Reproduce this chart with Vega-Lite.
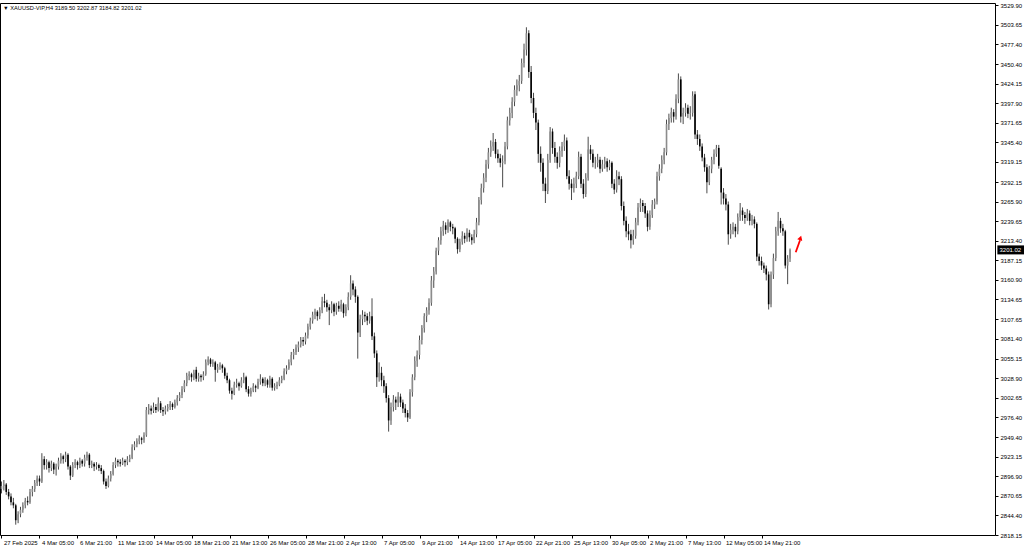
{
"$schema": "https://vega.github.io/schema/vega-lite/v6.json",
"width": 995, "height": 532,
"autosize": {"type": "none"},
"padding": {"left": 0, "top": 3, "right": 29, "bottom": 15},
"background": "#ffffff",
"title": {"text": "▼ XAUUSD-VIP,H4  3189.50 3202.87 3184.82 3201.02", "anchor": "start", "orient": "top", "frame": "group", "offset": -9, "fontSize": 5.7, "fontWeight": "normal", "font": "Liberation Sans", "color": "#000000", "dx": 3},
"config": {"view": {"stroke": "#000000", "strokeWidth": 1},
 "axis": {"labelOverlap": false, "labelSeparation": 0, "labelBound": false, "labelFlush": false, "grid": false, "domain": false, "tickSize": 3, "tickColor": "#000000", "labelFont": "Liberation Sans", "labelFontSize": 6, "labelColor": "#000000"}},
"data": {"values": [
{"i":0,"o":2880,"h":2890,"l":2874,"c":2884},{"i":1,"o":2884,"h":2892,"l":2878,"c":2886},{"i":2,"o":2886,"h":2888,"l":2872,"c":2876},{"i":3,"o":2876,"h":2880,"l":2866,"c":2870},{"i":4,"o":2870,"h":2874,"l":2858,"c":2862},{"i":5,"o":2862,"h":2868,"l":2854,"c":2858},{"i":6,"o":2858,"h":2860,"l":2832,"c":2838},{"i":7,"o":2838,"h":2850,"l":2834,"c":2846},{"i":8,"o":2846,"h":2856,"l":2842,"c":2852},{"i":9,"o":2852,"h":2862,"l":2848,"c":2858},
{"i":10,"o":2858,"h":2868,"l":2854,"c":2864},{"i":11,"o":2864,"h":2870,"l":2858,"c":2862},{"i":12,"o":2862,"h":2880,"l":2860,"c":2876},{"i":13,"o":2876,"h":2884,"l":2870,"c":2880},{"i":14,"o":2880,"h":2892,"l":2876,"c":2888},{"i":15,"o":2888,"h":2898,"l":2884,"c":2894},{"i":16,"o":2894,"h":2898,"l":2884,"c":2890},{"i":17,"o":2890,"h":2928,"l":2888,"c":2920},{"i":18,"o":2920,"h":2924,"l":2906,"c":2912},{"i":19,"o":2912,"h":2920,"l":2906,"c":2916},
{"i":20,"o":2916,"h":2918,"l":2902,"c":2908},{"i":21,"o":2908,"h":2918,"l":2904,"c":2914},{"i":22,"o":2914,"h":2916,"l":2900,"c":2906},{"i":23,"o":2906,"h":2914,"l":2898,"c":2910},{"i":24,"o":2910,"h":2922,"l":2906,"c":2918},{"i":25,"o":2918,"h":2928,"l":2914,"c":2924},{"i":26,"o":2924,"h":2926,"l":2914,"c":2920},{"i":27,"o":2920,"h":2930,"l":2916,"c":2926},{"i":28,"o":2926,"h":2928,"l":2906,"c":2910},{"i":29,"o":2910,"h":2912,"l":2892,"c":2898},
{"i":30,"o":2898,"h":2916,"l":2896,"c":2912},{"i":31,"o":2912,"h":2920,"l":2908,"c":2916},{"i":32,"o":2916,"h":2918,"l":2906,"c":2912},{"i":33,"o":2912,"h":2922,"l":2908,"c":2918},{"i":34,"o":2918,"h":2920,"l":2910,"c":2914},{"i":35,"o":2914,"h":2926,"l":2910,"c":2922},{"i":36,"o":2922,"h":2930,"l":2918,"c":2926},{"i":37,"o":2926,"h":2928,"l":2908,"c":2912},{"i":38,"o":2912,"h":2918,"l":2908,"c":2914},{"i":39,"o":2914,"h":2916,"l":2904,"c":2910},
{"i":40,"o":2910,"h":2916,"l":2906,"c":2912},{"i":41,"o":2912,"h":2914,"l":2904,"c":2908},{"i":42,"o":2908,"h":2912,"l":2900,"c":2904},{"i":43,"o":2904,"h":2906,"l":2886,"c":2890},{"i":44,"o":2890,"h":2894,"l":2880,"c":2884},{"i":45,"o":2884,"h":2898,"l":2882,"c":2894},{"i":46,"o":2894,"h":2904,"l":2890,"c":2900},{"i":47,"o":2900,"h":2916,"l":2898,"c":2912},{"i":48,"o":2912,"h":2922,"l":2908,"c":2918},{"i":49,"o":2918,"h":2920,"l":2910,"c":2916},
{"i":50,"o":2916,"h":2920,"l":2910,"c":2914},{"i":51,"o":2914,"h":2922,"l":2912,"c":2918},{"i":52,"o":2918,"h":2920,"l":2910,"c":2916},{"i":53,"o":2916,"h":2924,"l":2912,"c":2920},{"i":54,"o":2920,"h":2926,"l":2916,"c":2922},{"i":55,"o":2922,"h":2940,"l":2920,"c":2936},{"i":56,"o":2936,"h":2944,"l":2932,"c":2940},{"i":57,"o":2940,"h":2948,"l":2936,"c":2944},{"i":58,"o":2944,"h":2952,"l":2940,"c":2948},{"i":59,"o":2948,"h":2950,"l":2940,"c":2946},
{"i":60,"o":2946,"h":2956,"l":2942,"c":2952},{"i":61,"o":2952,"h":2990,"l":2950,"c":2986},{"i":62,"o":2986,"h":2994,"l":2980,"c":2988},{"i":63,"o":2988,"h":2992,"l":2980,"c":2985},{"i":64,"o":2985,"h":2996,"l":2982,"c":2990},{"i":65,"o":2990,"h":2994,"l":2982,"c":2986},{"i":66,"o":2986,"h":3003,"l":2984,"c":2995},{"i":67,"o":2995,"h":2998,"l":2982,"c":2986},{"i":68,"o":2986,"h":2990,"l":2978,"c":2984},{"i":69,"o":2984,"h":2992,"l":2980,"c":2988},
{"i":70,"o":2988,"h":2994,"l":2984,"c":2990},{"i":71,"o":2990,"h":2998,"l":2986,"c":2994},{"i":72,"o":2994,"h":2996,"l":2986,"c":2990},{"i":73,"o":2990,"h":3000,"l":2988,"c":2996},{"i":74,"o":2996,"h":3006,"l":2992,"c":3002},{"i":75,"o":3002,"h":3010,"l":2998,"c":3006},{"i":76,"o":3006,"h":3018,"l":3002,"c":3014},{"i":77,"o":3014,"h":3026,"l":3010,"c":3022},{"i":78,"o":3022,"h":3036,"l":3018,"c":3032},{"i":79,"o":3032,"h":3038,"l":3026,"c":3034},
{"i":80,"o":3034,"h":3036,"l":3024,"c":3030},{"i":81,"o":3030,"h":3040,"l":3026,"c":3036},{"i":82,"o":3040,"h":3044,"l":3024,"c":3028},{"i":83,"o":3028,"h":3036,"l":3024,"c":3032},{"i":84,"o":3032,"h":3034,"l":3024,"c":3030},{"i":85,"o":3030,"h":3038,"l":3026,"c":3034},{"i":86,"o":3034,"h":3054,"l":3032,"c":3050},{"i":87,"o":3050,"h":3058,"l":3046,"c":3054},{"i":88,"o":3054,"h":3056,"l":3044,"c":3048},{"i":89,"o":3048,"h":3054,"l":3044,"c":3050},
{"i":90,"o":3050,"h":3052,"l":3024,"c":3040},{"i":91,"o":3040,"h":3048,"l":3036,"c":3044},{"i":92,"o":3044,"h":3050,"l":3040,"c":3046},{"i":93,"o":3046,"h":3048,"l":3036,"c":3042},{"i":94,"o":3042,"h":3044,"l":3028,"c":3032},{"i":95,"o":3032,"h":3036,"l":3022,"c":3026},{"i":96,"o":3026,"h":3028,"l":3008,"c":3012},{"i":97,"o":3012,"h":3016,"l":3000,"c":3008},{"i":98,"o":3008,"h":3024,"l":3006,"c":3020},{"i":99,"o":3020,"h":3028,"l":3016,"c":3022},
{"i":100,"o":3022,"h":3024,"l":3012,"c":3018},{"i":101,"o":3018,"h":3030,"l":3016,"c":3026},{"i":102,"o":3026,"h":3036,"l":3022,"c":3030},{"i":103,"o":3030,"h":3032,"l":3010,"c":3014},{"i":104,"o":3014,"h":3018,"l":3004,"c":3008},{"i":105,"o":3008,"h":3016,"l":3004,"c":3012},{"i":106,"o":3012,"h":3022,"l":3010,"c":3018},{"i":107,"o":3018,"h":3020,"l":3010,"c":3016},{"i":108,"o":3016,"h":3028,"l":3014,"c":3024},{"i":109,"o":3024,"h":3034,"l":3020,"c":3028},
{"i":110,"o":3028,"h":3030,"l":3018,"c":3022},{"i":111,"o":3022,"h":3030,"l":3018,"c":3026},{"i":112,"o":3026,"h":3028,"l":3016,"c":3020},{"i":113,"o":3020,"h":3032,"l":3016,"c":3028},{"i":114,"o":3028,"h":3030,"l":3012,"c":3016},{"i":115,"o":3016,"h":3022,"l":3012,"c":3018},{"i":116,"o":3018,"h":3024,"l":3014,"c":3020},{"i":117,"o":3020,"h":3030,"l":3018,"c":3026},{"i":118,"o":3026,"h":3032,"l":3022,"c":3028},{"i":119,"o":3028,"h":3042,"l":3026,"c":3038},
{"i":120,"o":3038,"h":3046,"l":3034,"c":3042},{"i":121,"o":3042,"h":3054,"l":3040,"c":3050},{"i":122,"o":3050,"h":3064,"l":3046,"c":3060},{"i":123,"o":3060,"h":3068,"l":3054,"c":3064},{"i":124,"o":3064,"h":3074,"l":3060,"c":3070},{"i":125,"o":3070,"h":3078,"l":3064,"c":3074},{"i":126,"o":3074,"h":3084,"l":3070,"c":3080},{"i":127,"o":3080,"h":3084,"l":3072,"c":3078},{"i":128,"o":3078,"h":3090,"l":3074,"c":3086},{"i":129,"o":3086,"h":3102,"l":3082,"c":3098},
{"i":130,"o":3098,"h":3110,"l":3094,"c":3106},{"i":131,"o":3106,"h":3118,"l":3102,"c":3114},{"i":132,"o":3114,"h":3122,"l":3108,"c":3118},{"i":133,"o":3118,"h":3120,"l":3106,"c":3112},{"i":134,"o":3112,"h":3124,"l":3108,"c":3120},{"i":135,"o":3120,"h":3138,"l":3116,"c":3132},{"i":136,"o":3132,"h":3142,"l":3124,"c":3130},{"i":137,"o":3130,"h":3134,"l":3118,"c":3124},{"i":138,"o":3124,"h":3128,"l":3100,"c":3120},{"i":139,"o":3120,"h":3132,"l":3116,"c":3128},
{"i":140,"o":3128,"h":3130,"l":3112,"c":3118},{"i":141,"o":3118,"h":3130,"l":3114,"c":3126},{"i":142,"o":3126,"h":3132,"l":3118,"c":3122},{"i":143,"o":3122,"h":3134,"l":3118,"c":3128},{"i":144,"o":3128,"h":3130,"l":3110,"c":3116},{"i":145,"o":3116,"h":3128,"l":3112,"c":3124},{"i":146,"o":3124,"h":3144,"l":3120,"c":3138},{"i":147,"o":3138,"h":3167,"l":3134,"c":3156},{"i":148,"o":3156,"h":3160,"l":3140,"c":3148},{"i":149,"o":3148,"h":3152,"l":3130,"c":3138},
{"i":150,"o":3138,"h":3140,"l":3055,"c":3090},{"i":151,"o":3090,"h":3114,"l":3084,"c":3108},{"i":152,"o":3108,"h":3120,"l":3100,"c":3114},{"i":153,"o":3114,"h":3118,"l":3104,"c":3112},{"i":154,"o":3112,"h":3116,"l":3100,"c":3106},{"i":155,"o":3106,"h":3118,"l":3102,"c":3112},{"i":156,"o":3112,"h":3136,"l":3080,"c":3085},{"i":157,"o":3085,"h":3090,"l":3056,"c":3062},{"i":158,"o":3062,"h":3066,"l":3017,"c":3030},{"i":159,"o":3030,"h":3050,"l":3024,"c":3036},
{"i":160,"o":3036,"h":3044,"l":3018,"c":3026},{"i":161,"o":3026,"h":3032,"l":3009,"c":3018},{"i":162,"o":3018,"h":3022,"l":2996,"c":3002},{"i":163,"o":3002,"h":3006,"l":2957,"c":2972},{"i":164,"o":2972,"h":2996,"l":2966,"c":2990},{"i":165,"o":2990,"h":3006,"l":2984,"c":3000},{"i":166,"o":3000,"h":3004,"l":2986,"c":2996},{"i":167,"o":2996,"h":3010,"l":2990,"c":3004},{"i":168,"o":3004,"h":3008,"l":2990,"c":2996},{"i":169,"o":2996,"h":3000,"l":2982,"c":2988},
{"i":170,"o":2988,"h":2994,"l":2976,"c":2982},{"i":171,"o":2982,"h":2986,"l":2970,"c":2976},{"i":172,"o":2976,"h":3014,"l":2974,"c":3010},{"i":173,"o":3010,"h":3034,"l":3004,"c":3030},{"i":174,"o":3030,"h":3058,"l":3026,"c":3052},{"i":175,"o":3052,"h":3066,"l":3044,"c":3060},{"i":176,"o":3060,"h":3086,"l":3054,"c":3080},{"i":177,"o":3080,"h":3100,"l":3074,"c":3096},{"i":178,"o":3096,"h":3116,"l":3090,"c":3112},{"i":179,"o":3112,"h":3124,"l":3104,"c":3120},
{"i":180,"o":3120,"h":3136,"l":3114,"c":3130},{"i":181,"o":3130,"h":3166,"l":3126,"c":3160},{"i":182,"o":3160,"h":3178,"l":3150,"c":3172},{"i":183,"o":3172,"h":3204,"l":3168,"c":3200},{"i":184,"o":3200,"h":3218,"l":3194,"c":3214},{"i":185,"o":3214,"h":3232,"l":3208,"c":3226},{"i":186,"o":3226,"h":3240,"l":3220,"c":3234},{"i":187,"o":3234,"h":3238,"l":3222,"c":3228},{"i":188,"o":3228,"h":3242,"l":3224,"c":3238},{"i":189,"o":3238,"h":3240,"l":3226,"c":3232},
{"i":190,"o":3232,"h":3236,"l":3222,"c":3230},{"i":191,"o":3230,"h":3232,"l":3210,"c":3216},{"i":192,"o":3216,"h":3218,"l":3196,"c":3202},{"i":193,"o":3202,"h":3216,"l":3198,"c":3212},{"i":194,"o":3212,"h":3226,"l":3208,"c":3220},{"i":195,"o":3220,"h":3224,"l":3210,"c":3216},{"i":196,"o":3216,"h":3230,"l":3212,"c":3224},{"i":197,"o":3224,"h":3228,"l":3212,"c":3218},{"i":198,"o":3218,"h":3222,"l":3208,"c":3214},{"i":199,"o":3214,"h":3228,"l":3210,"c":3222},
{"i":200,"o":3222,"h":3244,"l":3218,"c":3238},{"i":201,"o":3238,"h":3272,"l":3234,"c":3268},{"i":202,"o":3268,"h":3290,"l":3262,"c":3284},{"i":203,"o":3284,"h":3304,"l":3278,"c":3298},{"i":204,"o":3298,"h":3322,"l":3292,"c":3316},{"i":205,"o":3316,"h":3338,"l":3310,"c":3332},{"i":206,"o":3332,"h":3348,"l":3326,"c":3340},{"i":207,"o":3340,"h":3358,"l":3334,"c":3346},{"i":208,"o":3346,"h":3350,"l":3324,"c":3330},{"i":209,"o":3330,"h":3336,"l":3318,"c":3324},
{"i":210,"o":3324,"h":3330,"l":3312,"c":3318},{"i":211,"o":3318,"h":3328,"l":3285,"c":3320},{"i":212,"o":3320,"h":3346,"l":3316,"c":3340},{"i":213,"o":3340,"h":3380,"l":3336,"c":3375},{"i":214,"o":3375,"h":3392,"l":3368,"c":3385},{"i":215,"o":3385,"h":3406,"l":3378,"c":3400},{"i":216,"o":3400,"h":3422,"l":3394,"c":3416},{"i":217,"o":3416,"h":3430,"l":3408,"c":3422},{"i":218,"o":3422,"h":3436,"l":3414,"c":3428},{"i":219,"o":3428,"h":3458,"l":3424,"c":3452},
{"i":220,"o":3452,"h":3478,"l":3446,"c":3470},{"i":221,"o":3470,"h":3500,"l":3462,"c":3492},{"i":222,"o":3492,"h":3496,"l":3432,"c":3440},{"i":223,"o":3440,"h":3448,"l":3398,"c":3405},{"i":224,"o":3405,"h":3412,"l":3378,"c":3385},{"i":225,"o":3385,"h":3392,"l":3362,"c":3372},{"i":226,"o":3372,"h":3376,"l":3318,"c":3330},{"i":227,"o":3330,"h":3340,"l":3306,"c":3318},{"i":228,"o":3318,"h":3324,"l":3280,"c":3290},{"i":229,"o":3290,"h":3298,"l":3264,"c":3280},
{"i":230,"o":3280,"h":3330,"l":3276,"c":3322},{"i":231,"o":3322,"h":3366,"l":3318,"c":3360},{"i":232,"o":3360,"h":3364,"l":3330,"c":3338},{"i":233,"o":3338,"h":3346,"l":3318,"c":3326},{"i":234,"o":3326,"h":3332,"l":3310,"c":3318},{"i":235,"o":3318,"h":3340,"l":3312,"c":3334},{"i":236,"o":3334,"h":3346,"l":3326,"c":3340},{"i":237,"o":3340,"h":3356,"l":3334,"c":3348},{"i":238,"o":3348,"h":3352,"l":3296,"c":3300},{"i":239,"o":3300,"h":3308,"l":3282,"c":3290},
{"i":240,"o":3290,"h":3296,"l":3268,"c":3284},{"i":241,"o":3284,"h":3298,"l":3278,"c":3290},{"i":242,"o":3290,"h":3306,"l":3284,"c":3300},{"i":243,"o":3300,"h":3333,"l":3296,"c":3326},{"i":244,"o":3326,"h":3330,"l":3284,"c":3290},{"i":245,"o":3290,"h":3296,"l":3270,"c":3276},{"i":246,"o":3276,"h":3304,"l":3272,"c":3298},{"i":247,"o":3298,"h":3353,"l":3294,"c":3336},{"i":248,"o":3336,"h":3342,"l":3322,"c":3330},{"i":249,"o":3330,"h":3336,"l":3312,"c":3318},
{"i":250,"o":3318,"h":3326,"l":3310,"c":3318},{"i":251,"o":3318,"h":3330,"l":3312,"c":3322},{"i":252,"o":3322,"h":3326,"l":3304,"c":3310},{"i":253,"o":3310,"h":3322,"l":3306,"c":3316},{"i":254,"o":3316,"h":3326,"l":3310,"c":3320},{"i":255,"o":3320,"h":3324,"l":3306,"c":3312},{"i":256,"o":3312,"h":3322,"l":3308,"c":3318},{"i":257,"o":3318,"h":3320,"l":3284,"c":3290},{"i":258,"o":3290,"h":3296,"l":3276,"c":3282},{"i":259,"o":3282,"h":3308,"l":3278,"c":3300},
{"i":260,"o":3300,"h":3306,"l":3288,"c":3296},{"i":261,"o":3296,"h":3300,"l":3254,"c":3260},{"i":262,"o":3260,"h":3266,"l":3234,"c":3240},{"i":263,"o":3240,"h":3246,"l":3218,"c":3226},{"i":264,"o":3226,"h":3236,"l":3214,"c":3222},{"i":265,"o":3222,"h":3228,"l":3203,"c":3214},{"i":266,"o":3214,"h":3228,"l":3208,"c":3220},{"i":267,"o":3220,"h":3244,"l":3216,"c":3238},{"i":268,"o":3238,"h":3264,"l":3234,"c":3258},{"i":269,"o":3258,"h":3270,"l":3252,"c":3264},
{"i":270,"o":3264,"h":3268,"l":3252,"c":3260},{"i":271,"o":3260,"h":3264,"l":3244,"c":3250},{"i":272,"o":3250,"h":3254,"l":3226,"c":3232},{"i":273,"o":3232,"h":3254,"l":3228,"c":3248},{"i":274,"o":3248,"h":3268,"l":3244,"c":3262},{"i":275,"o":3262,"h":3270,"l":3256,"c":3266},{"i":276,"o":3266,"h":3306,"l":3262,"c":3300},{"i":277,"o":3300,"h":3316,"l":3294,"c":3310},{"i":278,"o":3310,"h":3328,"l":3304,"c":3322},{"i":279,"o":3322,"h":3338,"l":3316,"c":3332},
{"i":280,"o":3332,"h":3376,"l":3328,"c":3370},{"i":281,"o":3370,"h":3384,"l":3362,"c":3378},{"i":282,"o":3378,"h":3392,"l":3372,"c":3386},{"i":283,"o":3386,"h":3390,"l":3372,"c":3380},{"i":284,"o":3380,"h":3410,"l":3376,"c":3404},{"i":285,"o":3404,"h":3438,"l":3398,"c":3430},{"i":286,"o":3430,"h":3434,"l":3372,"c":3380},{"i":287,"o":3380,"h":3392,"l":3370,"c":3385},{"i":288,"o":3385,"h":3398,"l":3380,"c":3392},{"i":289,"o":3392,"h":3396,"l":3378,"c":3384},
{"i":290,"o":3384,"h":3394,"l":3376,"c":3385},{"i":291,"o":3385,"h":3414,"l":3380,"c":3408},{"i":292,"o":3410,"h":3414,"l":3350,"c":3356},{"i":293,"o":3356,"h":3362,"l":3342,"c":3350},{"i":294,"o":3350,"h":3356,"l":3334,"c":3340},{"i":295,"o":3340,"h":3344,"l":3320,"c":3325},{"i":296,"o":3325,"h":3330,"l":3306,"c":3312},{"i":297,"o":3312,"h":3316,"l":3277,"c":3292},{"i":298,"o":3292,"h":3314,"l":3288,"c":3310},{"i":299,"o":3310,"h":3326,"l":3304,"c":3322},
{"i":300,"o":3322,"h":3336,"l":3316,"c":3330},{"i":301,"o":3330,"h":3342,"l":3326,"c":3338},{"i":302,"o":3338,"h":3342,"l":3310,"c":3314},{"i":303,"o":3310,"h":3312,"l":3262,"c":3278},{"i":304,"o":3278,"h":3284,"l":3262,"c":3270},{"i":305,"o":3270,"h":3276,"l":3254,"c":3262},{"i":306,"o":3262,"h":3266,"l":3208,"c":3222},{"i":307,"o":3222,"h":3236,"l":3216,"c":3228},{"i":308,"o":3228,"h":3238,"l":3222,"c":3232},{"i":309,"o":3232,"h":3236,"l":3218,"c":3226},
{"i":310,"o":3226,"h":3250,"l":3222,"c":3245},{"i":311,"o":3245,"h":3264,"l":3240,"c":3254},{"i":312,"o":3254,"h":3258,"l":3240,"c":3248},{"i":313,"o":3248,"h":3252,"l":3236,"c":3244},{"i":314,"o":3244,"h":3256,"l":3240,"c":3250},{"i":315,"o":3250,"h":3254,"l":3234,"c":3240},{"i":316,"o":3240,"h":3248,"l":3234,"c":3242},{"i":317,"o":3242,"h":3246,"l":3230,"c":3236},{"i":318,"o":3236,"h":3238,"l":3186,"c":3192},{"i":319,"o":3192,"h":3196,"l":3180,"c":3186},
{"i":320,"o":3186,"h":3192,"l":3174,"c":3180},{"i":321,"o":3180,"h":3184,"l":3170,"c":3176},{"i":322,"o":3176,"h":3180,"l":3160,"c":3168},{"i":323,"o":3168,"h":3172,"l":3121,"c":3128},{"i":324,"o":3128,"h":3172,"l":3124,"c":3168},{"i":325,"o":3168,"h":3196,"l":3162,"c":3190},{"i":326,"o":3190,"h":3232,"l":3186,"c":3226},{"i":327,"o":3226,"h":3252,"l":3220,"c":3240},{"i":328,"o":3240,"h":3244,"l":3224,"c":3230},{"i":329,"o":3230,"h":3236,"l":3220,"c":3226},
{"i":330,"o":3226,"h":3228,"l":3176,"c":3180},{"i":331,"o":3180,"h":3194,"l":3155,"c":3189.5},{"i":332,"o":3189.5,"h":3202.87,"l":3184.82,"c":3201.02}
]},
"layer": [
{"mark": {"type": "rule", "color": "#4a4a4a", "strokeWidth": 1},
 "encoding": {
  "x": {"field": "i", "type": "quantitative", "scale": {"domain": [-0.63, 418.3], "nice": false, "zero": false},
   "axis": {"values": [0,16,32,48,64,80,96,112,128,144,160,176,192,208,224,240,256,272,288,304,320], "tickCount": 40,
    "labelExpr": "['27 Feb 2025','4 Mar 05:00','6 Mar 21:00','11 Mar 13:00','14 Mar 05:00','18 Mar 21:00','21 Mar 13:00','26 Mar 05:00','28 Mar 21:00','2 Apr 13:00','7 Apr 05:00','9 Apr 21:00','14 Apr 13:00','17 Apr 05:00','22 Apr 21:00','25 Apr 13:00','30 Apr 05:00','2 May 21:00','7 May 13:00','12 May 05:00','14 May 21:00'][round(datum.value/16)]",
    "title": null, "labelAlign": "left", "labelOffset": 2, "labelPadding": 1, "labelOverlap": false}},
  "y": {"field": "l", "type": "quantitative", "scale": {"domain": [2818.15, 3532.59], "nice": false, "zero": false},
   "axis": {"orient": "right", "values": [3529.90,3503.65,3477.40,3450.40,3424.15,3397.90,3371.65,3345.40,3319.15,3292.15,3265.90,3239.65,3213.40,3187.15,3160.90,3134.65,3107.65,3081.40,3055.15,3028.90,3002.65,2976.40,2949.40,2923.15,2896.90,2870.65,2844.40,2818.15], "tickCount": 60,
    "format": ".2f", "title": null, "labelPadding": 2, "labelOverlap": false, "labelSeparation": 0}},
  "y2": {"field": "h"}
 }},
{"mark": {"type": "rule", "strokeWidth": 1.6},
 "encoding": {
  "x": {"field": "i", "type": "quantitative"},
  "y": {"field": "o", "type": "quantitative"},
  "y2": {"field": "c"},
  "color": {"condition": {"test": "datum.c < datum.o", "value": "#000000"}, "value": "#8c8c8c"}
 }},
{"data": {"values": [{"p": 3201.02}]},
 "layer": [
  {"mark": {"type": "rule", "color": "#000000", "strokeWidth": 9, "clip": false},
   "encoding": {"x": {"datum": 419.3, "type": "quantitative"}, "x2": {"datum": 432}, "y": {"field": "p", "type": "quantitative"}}},
  {"mark": {"type": "text", "color": "#ffffff", "align": "left", "baseline": "middle", "font": "Liberation Sans", "fontSize": 6, "clip": false},
   "encoding": {"x": {"datum": 420.2, "type": "quantitative"}, "y": {"field": "p", "type": "quantitative"}, "text": {"field": "p", "type": "quantitative", "format": ".2f"}}}
 ]},
{"data": {"values": [{"i": 334.4, "p": 3197.8, "i2": 336.2, "p2": 3214, "ti": 336.4, "tp": 3217}]},
 "layer": [
  {"mark": {"type": "rule", "color": "#ff0000", "strokeWidth": 1.8},
   "encoding": {"x": {"field": "i", "type": "quantitative"}, "y": {"field": "p", "type": "quantitative"}, "x2": {"field": "i2"}, "y2": {"field": "p2"}}},
  {"mark": {"type": "point", "shape": "triangle-up", "filled": true, "color": "#ff0000", "size": 28, "angle": 18, "opacity": 1},
   "encoding": {"x": {"field": "ti", "type": "quantitative"}, "y": {"field": "tp", "type": "quantitative"}}}
 ]}
]
}
